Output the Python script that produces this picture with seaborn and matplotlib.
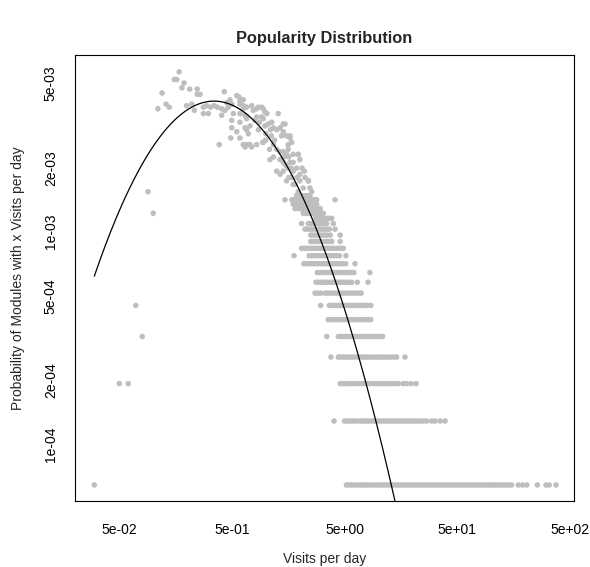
import numpy as np
import pandas as pd
import matplotlib
matplotlib.use("Agg")
import matplotlib.pyplot as plt
import seaborn as sns

# ---------------- data ----------------
N_MODULES = 15560  # probability = module count / N_MODULES

# visits-per-day values of the points at each module-count level
x_k1 = [5.2, 5.5, 5.8, 6.1, 6.5, 6.9, 7.3, 7.7, 8.1, 8.6, 9.1, 9.6, 10.1, 10.7, 11.3,
        12.0, 12.7, 13.4, 14.2, 15.0, 15.8, 16.7, 17.7, 18.7, 19.8, 20.9, 22.1, 23.4,
        24.7, 26.1, 27.6, 29.2, 30.9, 32.6, 34.5, 36.5, 38.6, 40.8, 43.1, 45.6, 48.2,
        50.9, 53.8, 56.9, 60.2, 63.6, 67.2, 71.1, 75.1, 79.4, 83.9, 88.7, 93.8, 98.2,
        103, 109, 115, 122, 129, 136, 144, 152, 175, 191, 208, 258, 308, 329, 378]
x_k2 = [4.04, 5.0, 5.3, 5.6, 5.9, 6.2, 6.6, 7.0, 7.4, 7.8, 8.2, 8.7, 9.2, 9.7, 10.3,
        10.9, 11.5, 12.2, 12.9, 13.6, 14.4, 15.2, 16.1, 17.0, 18.0, 19.0, 20.1, 21.2,
        22.4, 23.7, 25.1, 26.8, 29.7, 31.8, 35.3, 39.1]
x_k3 = [4.58, 4.84, 5.1, 5.4, 5.7, 6.0, 6.4, 6.8, 7.2, 7.6, 8.0, 8.5, 9.0, 9.5, 10.0,
        10.6, 11.2, 11.8, 12.5, 13.2, 14.0, 15.0, 16.6, 17.8, 19.5, 21.6]
x_k4 = [3.79, 4.41, 4.66, 4.93, 5.2, 5.5, 5.8, 6.1, 6.5, 6.9, 7.3, 7.7, 8.1, 8.6, 9.1,
        9.6, 10.1, 10.7, 11.3, 12.0, 12.7, 13.6, 14.5, 17.2]
x_k5 = [3.48, 4.41, 4.66, 4.93, 5.2, 5.5, 5.8, 6.1, 6.5, 6.9, 7.3, 7.7, 8.1, 8.6, 9.1,
        9.6, 10.2, 10.9]
x_k6 = [3.59, 3.8, 4.0, 4.25, 4.5, 4.75, 5.0, 5.3, 5.6, 5.9, 6.3, 6.6, 7.0, 7.4, 7.8,
        8.2, 8.55]
x_k7 = [3.07, 3.67, 3.88, 4.1, 4.33, 4.58, 4.84, 5.1, 5.4, 5.7, 6.0, 6.4, 6.8, 7.2, 7.6,
        7.96, 8.59]
x_k8 = [2.74, 2.9, 3.07, 3.36, 3.55, 3.75, 3.97, 4.2, 4.44, 4.7, 4.97, 5.25, 5.55, 5.87,
        6.2, 6.6, 7.02]
x_k9 = [2.79, 2.95, 3.12, 3.3, 3.49, 3.69, 3.9, 4.12, 4.36, 4.6, 4.87, 5.15, 5.45, 5.79,
        6.50, 8.09]
x_k10 = [2.87, 3.03, 3.2, 3.39, 3.58, 3.79, 4.0, 4.23, 4.47, 4.73, 5.0, 5.3, 5.6, 5.9,
         6.07, 8.41]
x_k11 = [2.18, 2.3, 2.43, 2.57, 2.72, 2.88, 3.04, 3.22, 3.4, 3.6, 3.8, 4.02, 4.25, 4.5,
         4.76, 5.13, 6.20]
x_k12 = [1.78, 2.43, 2.57, 2.72, 2.88, 3.04, 3.22, 3.4, 3.6, 3.8, 4.02, 4.25, 4.50, 5.15]
x_k13 = [2.08, 2.2, 2.33, 2.46, 2.6, 2.75, 2.91, 3.08, 3.26, 3.45, 3.65, 3.86, 4.08,
         4.31, 4.56, 4.88]
x_k14 = [2.51, 2.65, 2.8, 2.96, 3.13, 3.31, 3.5, 3.7, 3.85, 4.58]
x_k15 = [2.51, 2.65, 2.8, 2.96, 3.13, 3.31, 3.5, 3.73, 4.58]
x_k16 = [2.23, 2.36, 2.5, 2.64, 2.79, 2.95, 3.12, 3.3, 3.49, 3.67, 4.12]
x_k17 = [2.08, 2.39, 2.53, 2.67, 2.83, 2.99, 3.16, 3.34, 3.47, 3.98]
x_k18 = [2.74, 2.9, 3.06, 3.24, 3.43, 3.63, 3.85]
x_k19 = [2.15, 2.27, 2.4, 2.54, 2.69, 2.84, 3.0, 3.12, 3.24]
x_k20 = [1.82, 1.93, 2.04, 2.16, 2.28, 2.41, 2.55, 2.7, 2.86, 3.04]
x_k21 = [1.75, 1.85, 1.96, 2.07, 2.19, 2.32, 2.45, 2.59, 2.74, 2.83]
x_k22 = [1.75, 1.85, 1.96, 2.07, 2.19, 2.32, 2.45, 2.59, 2.74, 2.83]
x_k23 = [1.88, 1.99, 2.1, 2.22, 2.35, 2.47]

# scattered points: visits per day and module count
cloud_x = [0.030, 0.050, 0.060, 0.070, 0.080, 0.090, 0.100,
           0.170, 0.154, 0.162, 0.188, 0.180, 0.211, 0.246, 0.120, 0.246, 0.261, 0.428,
           0.130, 0.139, 0.110, 0.198, 0.220, 0.232,
           0.279, 0.299, 0.324, 0.347, 0.371, 0.406, 0.434, 0.279, 0.309, 0.406, 0.465,
           0.481, 0.552, 0.578, 0.590, 0.631, 0.676, 0.515, 0.590, 0.654, 0.498, 0.590,
           0.676, 0.498, 0.552, 0.676, 0.590, 0.488, 0.386, 0.676, 0.654, 0.724, 0.830,
           0.939, 0.631,
           0.590, 0.631, 0.775, 0.858, 0.951, 1.02, 1.29, 0.676, 0.830, 0.920, 0.654,
           0.700, 0.631, 0.700, 0.951, 0.984, 1.05, 1.13, 1.17, 1.25, 1.34, 1.43, 1.38,
           1.53, 1.64, 1.58, 1.70, 1.17, 1.25, 1.34, 1.43, 1.53, 1.58, 1.09, 1.17, 1.34,
           1.43, 1.64, 1.75, 1.94, 2.01, 1.25, 1.34, 1.43, 1.58, 1.75, 1.88, 2.01, 1.53,
           1.70, 1.82, 2.01, 2.23, 2.39, 2.47, 2.15, 1.94, 1.75, 1.48, 1.70, 1.88, 2.15,
           2.31, 2.56, 4.12, 2.56, 1.43, 1.64, 1.94, 2.39,
           0.749, 0.830, 0.920, 0.984, 1.48, 0.724, 0.749,
           0.80, 0.88, 0.95, 0.86, 1.00, 1.10, 1.00, 1.08, 1.20, 1.12,
           1.45, 1.60, 1.75, 1.50, 1.68, 2.10, 1.90, 2.20, 1.60, 0.45, 0.50]
cloud_k = [1, 3, 3, 7, 5, 24, 19,
           88, 81, 81, 78, 74, 73, 73, 70, 69, 69, 71,
           62, 60, 59, 61, 62, 58,
           60, 61, 60, 61, 60, 59, 58, 56, 56, 55, 60,
           65, 68, 67, 64, 61, 60, 56, 56, 55, 52, 51,
           53, 48, 46, 47, 43, 43, 40, 40, 39, 40, 40,
           41, 65,
           62, 59, 58, 60, 59, 56, 56, 54, 54, 54, 48,
           45, 40, 40, 41, 49, 50, 51, 48, 47, 48, 46, 44,
           44, 43, 40, 41, 40, 38, 37, 37, 36, 38, 34, 35, 34,
           33, 33, 33, 36, 34, 30, 29, 30, 31, 30, 31, 29, 27,
           28, 26, 27, 28, 27, 25, 25, 24, 26, 22, 22, 23, 22,
           23, 22, 22, 24, 50, 44, 36, 27,
           61, 59, 60, 57, 50, 49, 39,
           52, 51, 53, 47, 45, 47, 42, 38, 42, 44,
           35, 35, 36, 32, 31, 31, 28, 30, 28, 63, 62]

# fitted log-normal curve (parabola in log-log space)
fit_peak_x = 0.347
fit_peak_y = 4.12e-3
fit_curvature = 0.729
fit_x_min, fit_x_max = 0.030, 40.0

x_ticks = [0.05, 0.1, 0.5, 1, 5, 10, 50, 100, 500]
x_tick_labels = ["5e-02", "", "5e-01", "", "5e+00", "", "5e+01", "", "5e+02"]
y_ticks = [1e-4, 2e-4, 5e-4, 1e-3, 2e-3, 5e-3]
y_tick_labels = ["1e-04", "2e-04", "5e-04", "1e-03", "2e-03", "5e-03"]

title = "Popularity Distribution"
x_label = "Visits per day"
y_label = "Probability of Modules with x Visits per day"

# ---------------- build tables ----------------
levels = {1: x_k1, 2: x_k2, 3: x_k3, 4: x_k4, 5: x_k5, 6: x_k6, 7: x_k7, 8: x_k8,
          9: x_k9, 10: x_k10, 11: x_k11, 12: x_k12, 13: x_k13, 14: x_k14, 15: x_k15,
          16: x_k16, 17: x_k17, 18: x_k18, 19: x_k19, 20: x_k20, 21: x_k21, 22: x_k22,
          23: x_k23}
rows = []
for k, xs in levels.items():
    for xv in xs:
        rows.append((xv, k / N_MODULES))
for xv, k in zip(cloud_x, cloud_k):
    rows.append((xv, k / N_MODULES))
pts = pd.DataFrame(rows, columns=["visits", "prob"])

cx = np.geomspace(fit_x_min, fit_x_max, 400)
cy = 10 ** (np.log10(fit_peak_y) - fit_curvature * (np.log10(cx) - np.log10(fit_peak_x)) ** 2)
curve = pd.DataFrame({"visits": cx, "prob": cy})

# ---------------- plot ----------------
sns.set_style("white")
plt.rcParams["font.family"] = ["Liberation Sans", "DejaVu Sans"]

W, H = 590, 567
fig = plt.figure(figsize=(W / 100, H / 100), dpi=100)
L, R, T, B = 75, 574, 55, 500.7
ax = fig.add_axes([L / W, 1 - B / H, (R - L) / W, (B - T) / H])
ax.set_xscale("log")
ax.set_yscale("log")

sns.scatterplot(data=pts, x="visits", y="prob", color="#BEBEBE", s=16,
                edgecolor="none", linewidth=0, ax=ax, legend=False, zorder=2)
sns.lineplot(data=curve, x="visits", y="prob", color="black", linewidth=0.9,
             estimator=None, sort=True, ax=ax, zorder=3)

ax.set_xlim(0.02021, 546)
ax.set_ylim(5.42e-5, 6.79e-3)

ax.minorticks_off()
ax.set_xticks(x_ticks)
ax.set_xticklabels(x_tick_labels, fontsize=10)
ax.set_yticks(y_ticks)
ax.set_yticklabels(y_tick_labels, fontsize=10)
for t in ax.get_yticklabels():
    t.set_rotation(90)
    t.set_rotation_mode("anchor")
    t.set_ha("center")
    t.set_va("bottom")
ax.tick_params(axis="both", which="major", direction="out", length=6, width=0.8,
               color="black", labelcolor="black")
ax.tick_params(axis="x", pad=10)
ax.tick_params(axis="y", pad=6.3)
ax.tick_params(axis="both", which="minor", length=0)

for sp in ax.spines.values():
    sp.set_visible(True)
    sp.set_color("black")
    sp.set_linewidth(0.8)

ax.set_xlabel(x_label, fontsize=10, va="baseline")
ax.xaxis.set_label_coords(0.5, (B - 563.5) / (B - T))
ax.set_ylabel(y_label, fontsize=10, va="center")
ax.yaxis.set_label_coords((18 - L) / (R - L), 0.5)
fig.text((L + R) / 2 / W, 1 - 38 / H, title, ha="center", va="center",
         fontsize=11.8, fontweight="bold")

fig.savefig("out.png", dpi=100)
